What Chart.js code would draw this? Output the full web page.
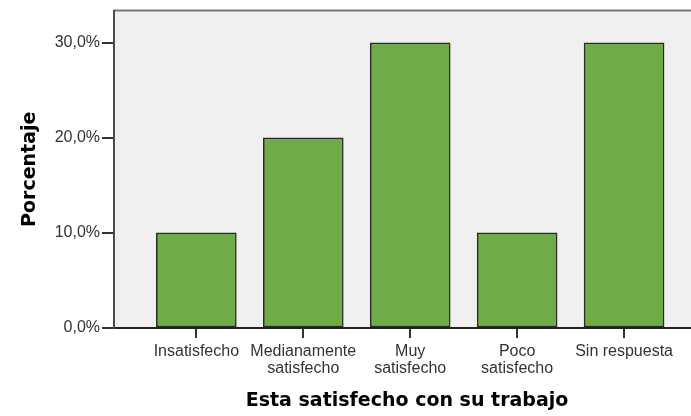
<!DOCTYPE html>
<html>
<head>
<meta charset="utf-8">
<script src="https://cdn.jsdelivr.net/npm/chart.js@4/dist/chart.umd.min.js"></script>
<style>
    html, body { margin: 0; padding: 0; background: #fff; overflow: hidden; }
    #wrap { width: 691px; height: 416px; overflow: hidden; }
</style>
</head>
<body>
<div id="wrap"><canvas id="chart" width="700" height="416"></canvas></div>
<script>
// Datos del gráfico
const categories = [
    ['Insatisfecho'],
    ['Medianamente', 'satisfecho'],
    ['Muy', 'satisfecho'],
    ['Poco', 'satisfecho'],
    ['Sin respuesta']
];
const percentages = [10, 20, 30, 10, 30];
const yTicks = [0, 10, 20, 30];

const xTitle = 'Esta satisfecho con su trabajo';
const yTitle = 'Porcentaje';

/**
 * Fondo gris y marco del área de trazado (estilo SPSS)
 */
const plotFrame = {
    id: 'plotFrame',
    beforeDraw(chart) {
        const { ctx, chartArea: a } = chart;
        ctx.save();
        ctx.fillStyle = '#f0f0f0';
        ctx.fillRect(a.left, a.top, a.right - a.left, a.bottom - a.top);
        ctx.strokeStyle = '#777';
        ctx.lineWidth = 2;
        ctx.strokeRect(a.left, a.top, a.right - a.left, a.bottom - a.top);
        ctx.restore();
    }
};

const tickFont = { family: '"Liberation Sans", Arial, sans-serif', size: 16, lineHeight: '17px' };
const titleFont = { family: '"DejaVu Sans", Verdana, sans-serif', size: 19, weight: 'bold' };

new Chart(document.getElementById('chart').getContext('2d'), {
    type: 'bar',
    data: {
        datasets: [{
            data: percentages.map((v, i) => ({ x: i, y: v })),
            backgroundColor: '#6fab47',
            borderColor: '#2b2b2b',
            borderWidth: 1.5,
            borderSkipped: false,
            barThickness: 80
        }]
    },
    options: {
        responsive: false,
        animation: false,
        layout: { padding: { top: 10, left: 0, right: 0, bottom: 0 } },
        plugins: {
            legend: { display: false },
            tooltip: { enabled: false }
        },
        scales: {
            x: {
                type: 'linear',
                offset: false,
                min: -0.77,
                max: 4.71,
                afterBuildTicks: scale => {
                    scale.ticks = categories.map((_, i) => ({ value: i }));
                },
                afterFit: scale => { scale.height = 88; },
                ticks: {
                    autoSkip: false,
                    maxRotation: 0,
                    padding: 5,
                    color: '#333',
                    font: tickFont,
                    callback: v => categories[v]
                },
                grid: {
                    offset: false,
                    drawOnChartArea: false,
                    drawTicks: true,
                    tickLength: 10,
                    color: '#333',
                    lineWidth: 2
                },
                border: { display: true, color: '#222', width: 2 },
                title: {
                    display: true,
                    text: xTitle,
                    color: '#000',
                    font: titleFont,
                    padding: { top: 0, bottom: 4 }
                }
            },
            y: {
                min: 0,
                max: 33.4,
                afterBuildTicks: scale => {
                    scale.ticks = yTicks.map(v => ({ value: v }));
                },
                afterFit: scale => { scale.width = 114; },
                ticks: {
                    padding: 2,
                    color: '#333',
                    font: tickFont,
                    callback: v => v.toFixed(1).replace('.', ',') + '%'
                },
                grid: {
                    drawOnChartArea: false,
                    drawTicks: true,
                    tickLength: 12,
                    color: '#333',
                    lineWidth: 2
                },
                border: { display: true, color: '#4d4d4d', width: 2 },
                title: {
                    display: true,
                    text: yTitle,
                    color: '#000',
                    font: titleFont,
                    padding: { top: 19, bottom: 0 }
                }
            }
        }
    },
    plugins: [plotFrame]
});
</script>
</body>
</html>
